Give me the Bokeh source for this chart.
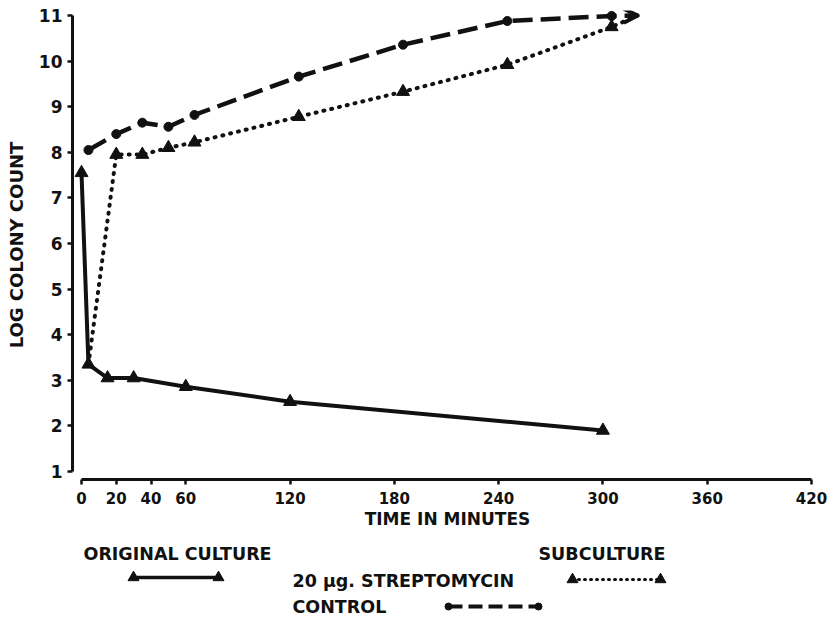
from bokeh.plotting import figure
from bokeh.models import Range1d, FixedTicker, Arrow, OpenHead
from bokeh.layouts import column
from bokeh.core.properties import value
from bokeh.embed import file_html
from bokeh.resources import INLINE

# ---- data ----
orig_t = [0, 4, 15, 30, 60, 120, 300]
orig_v = [7.55, 3.35, 3.05, 3.05, 2.86, 2.53, 1.9]

sub_t = [4, 20, 35, 50, 65, 125, 185, 245, 305]
sub_v = [3.35, 7.95, 7.95, 8.1, 8.22, 8.78, 9.33, 9.92, 10.75]

ctrl_t = [4, 20, 35, 50, 65, 125, 185, 245, 305]
ctrl_v = [8.05, 8.4, 8.65, 8.56, 8.82, 9.66, 10.36, 10.88, 10.99]

arrow_tip_t = 320
arrow_tip_v = 11.0

x_ticks = [0, 20, 40, 60, 120, 180, 240, 300, 360, 420]
y_ticks = [1, 2, 3, 4, 5, 6, 7, 8, 9, 10, 11]

x_label = "TIME IN MINUTES"
y_label = "LOG COLONY COUNT"
legend_orig = "ORIGINAL CULTURE"
legend_sub = "SUBCULTURE"
legend_strep = "20 \u00b5g. STREPTOMYCIN"
legend_ctrl = "CONTROL"

FONT = "DejaVu Sans"
INK = "#111111"

p = figure(frame_width=750, frame_height=469,
           x_range=Range1d(-5.18, 426.33), y_range=Range1d(0.825, 11.11),
           output_backend="svg", toolbar_location=None,
           min_border_left=72, min_border_right=12, min_border_top=10,
           min_border_bottom=50)
p.outline_line_color = None
p.xgrid.visible = False
p.ygrid.visible = False

for ax in (p.xaxis[0], p.yaxis[0]):
    ax.axis_line_width = 3
    ax.axis_line_color = INK
    ax.major_tick_line_width = 2.5
    ax.major_tick_line_color = INK
    ax.major_tick_in = 0
    ax.major_tick_out = 5
    ax.minor_tick_line_color = None
    ax.major_label_text_font = FONT
    ax.major_label_text_font_style = "bold"
    ax.major_label_text_color = INK
    ax.axis_label_text_font = FONT
    ax.axis_label_text_font_style = "bold"
    ax.axis_label_text_color = INK

p.xaxis[0].ticker = FixedTicker(ticks=x_ticks)
p.xaxis[0].bounds = (0, 420)
p.xaxis[0].major_label_text_font_size = "15px"
p.xaxis[0].major_label_standoff = 7
p.xaxis[0].axis_label = x_label
p.xaxis[0].axis_label_text_font_size = "17px"
p.xaxis[0].axis_label_standoff = 2

p.yaxis[0].ticker = FixedTicker(ticks=y_ticks)
p.yaxis[0].bounds = (1, 11)
p.yaxis[0].major_label_text_font_size = "17px"
p.yaxis[0].major_label_standoff = 5
p.yaxis[0].axis_label = y_label
p.yaxis[0].axis_label_text_font_size = "18px"
p.yaxis[0].axis_label_standoff = 9

# original culture: solid with triangles
p.line(orig_t, orig_v, line_color=INK, line_width=4)
p.scatter(orig_t, orig_v, marker="triangle", size=13, color=INK)

# subculture with streptomycin: dotted with triangles
p.line(sub_t + [arrow_tip_t], sub_v + [arrow_tip_v], line_color=INK,
       line_width=4, line_dash="1 7", line_cap="round")
p.scatter(sub_t[1:], sub_v[1:], marker="triangle", size=13, color=INK)

# control: dashed with circles
p.line(ctrl_t + [arrow_tip_t], ctrl_v + [arrow_tip_v], line_color=INK,
       line_width=4.5, line_dash="20 8")
p.scatter(ctrl_t, ctrl_v, marker="circle", size=9, color=INK)

p.add_layout(Arrow(x_start=ctrl_t[-1], y_start=ctrl_v[-1],
                   x_end=arrow_tip_t, y_end=arrow_tip_v,
                   line_alpha=0,
                   end=OpenHead(size=14, line_width=4, line_color=INK)))

# ---- legend block underneath (pixel layout coordinates) ----
leg = figure(frame_width=750, frame_height=89,
             x_range=Range1d(72, 822), y_range=Range1d(618, 529),
             output_backend="svg", toolbar_location=None,
             min_border_left=72, min_border_right=12,
             min_border_top=0, min_border_bottom=0)
leg.outline_line_color = None
leg.axis.visible = False
leg.xgrid.visible = False
leg.ygrid.visible = False

txt = dict(text_font=value(FONT), text_font_style="bold", text_font_size="17.5px",
           text_color=INK, text_baseline="middle", text_align="left")
leg.text(x=[83], y=[551], text=[legend_orig], **txt)
leg.text(x=[538], y=[551], text=[legend_sub], **txt)
leg.text(x=[292], y=[578], text=[legend_strep], **txt)
leg.text(x=[292], y=[604], text=[legend_ctrl], **txt)

leg.line([133, 218], [575, 575], line_color=INK, line_width=3.5)
leg.scatter([133, 218], [575, 575], marker="triangle", size=11, color=INK)
leg.line([572, 660], [577, 577], line_color=INK, line_width=3, line_dash="1 5",
         line_cap="round")
leg.scatter([572, 660], [577, 577], marker="triangle", size=11, color=INK)
leg.line([448, 538], [604, 604], line_color=INK, line_width=4, line_dash="14 6")
leg.scatter([448, 538], [604, 604], marker="circle", size=7, color=INK)

layout = column(p, leg, spacing=0)
open("out.html", "w").write(file_html(layout, INLINE))
